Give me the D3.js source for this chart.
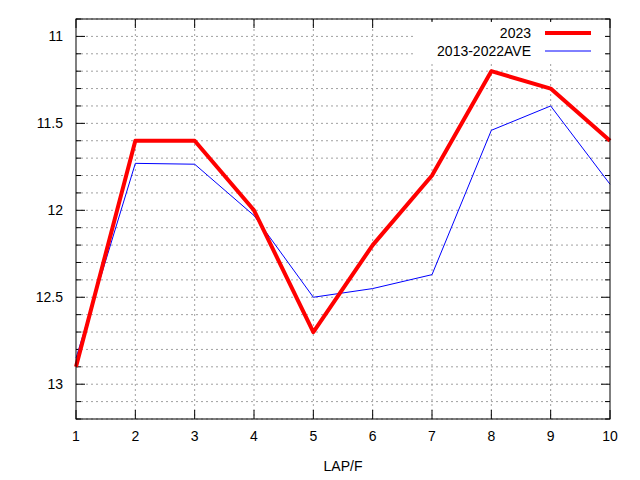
<!DOCTYPE html>
<html><head><meta charset="utf-8">
<script src="https://cdn.jsdelivr.net/npm/d3@7"></script>
<style>body{margin:0;background:#fff}</style></head>
<body><svg id="c" width="640" height="480"></svg>
<script>
const laps = [1, 2, 3, 4, 5, 6, 7, 8, 9, 10];
const y2023 = [12.9, 11.6, 11.6, 12.0, 12.7, 12.2, 11.8, 11.2, 11.3, 11.6];
const yAve = [12.85, 11.73, 11.735, 12.03, 12.5, 12.45, 12.37, 11.54, 11.4, 11.85];
const yMajor = [11, 11.5, 12, 12.5, 13];
const yLabels = ['11', '11.5', '12', '12.5', '13'];

const pLeft = 76, pRight = 610, pTop = 19, pBottom = 419;
const svg = d3.select('#c');
const x = d3.scaleLinear().domain([1, 10]).range([pLeft, pRight]);
const y = d3.scaleLinear().domain([10.9, 13.2]).range([pTop, pBottom]);
const minor = d3.range(109, 133).map(v => v / 10);

// grid
svg.append('g').selectAll('line').data(minor).join('line')
  .attr('x1', pLeft).attr('x2', pRight).attr('y1', d => y(d)).attr('y2', d => y(d))
  .attr('stroke', '#a0a0a0').attr('stroke-dasharray', '2 3');
svg.append('g').selectAll('line').data(laps.slice(1, -1)).join('line')
  .attr('y1', pTop).attr('y2', pBottom).attr('x1', d => x(d)).attr('x2', d => x(d))
  .attr('stroke', '#a0a0a0').attr('stroke-dasharray', '2 3');

// ticks
const tk = svg.append('g').attr('stroke', '#000');
minor.forEach(v => {
  const len = yMajor.some(m => Math.abs(m - v) < 1e-6) ? 9 : 5;
  tk.append('line').attr('x1', pLeft).attr('x2', pLeft + len).attr('y1', y(v)).attr('y2', y(v));
  tk.append('line').attr('x1', pRight).attr('x2', pRight - len).attr('y1', y(v)).attr('y2', y(v));
});
laps.forEach(v => {
  tk.append('line').attr('x1', x(v)).attr('x2', x(v)).attr('y1', pBottom).attr('y2', pBottom - 9);
  tk.append('line').attr('x1', x(v)).attr('x2', x(v)).attr('y1', pTop).attr('y2', pTop + 9);
});

const font = 'Liberation Sans, Arial, sans-serif';
svg.append('g').selectAll('text').data(yMajor).join('text')
  .attr('x', pLeft - 13).attr('y', d => y(d) + 5).attr('text-anchor', 'end')
  .attr('font-family', font).attr('font-size', 14).text((d, i) => yLabels[i]);
svg.append('g').selectAll('text').data(laps).join('text')
  .attr('x', d => x(d)).attr('y', pBottom + 22).attr('text-anchor', 'middle')
  .attr('font-family', font).attr('font-size', 14).text(d => d);
svg.append('text').attr('x', (pLeft + pRight) / 2).attr('y', 471).attr('text-anchor', 'middle')
  .attr('font-family', font).attr('font-size', 14).text('LAP/F');

// legend background
svg.append('rect').attr('x', 415).attr('y', 22).attr('width', 190).attr('height', 40).attr('fill', '#fff');

const line = d3.line().x((d, i) => x(laps[i])).y(d => y(d));
svg.append('path').datum(yAve).attr('d', line).attr('fill', 'none').attr('stroke', '#0000ff').attr('stroke-width', 1);
svg.append('path').datum(y2023).attr('d', line).attr('fill', 'none').attr('stroke', '#ff0000').attr('stroke-width', 4).attr('stroke-linejoin', 'round');

const lg = [{t: '2023', c: '#ff0000', w: 4}, {t: '2013-2022AVE', c: '#0000ff', w: 1}];
lg.forEach((d, i) => {
  const yy = 33 + i * 18;
  svg.append('text').attr('x', 531).attr('y', yy + 5).attr('text-anchor', 'end')
    .attr('font-family', font).attr('font-size', 14).text(d.t);
  svg.append('line').attr('x1', 545).attr('x2', 591).attr('y1', yy).attr('y2', yy)
    .attr('stroke', d.c).attr('stroke-width', d.w);
});

svg.append('rect').attr('x', pLeft).attr('y', pTop).attr('width', pRight - pLeft).attr('height', pBottom - pTop)
  .attr('fill', 'none').attr('stroke', '#000');
</script></body></html>
